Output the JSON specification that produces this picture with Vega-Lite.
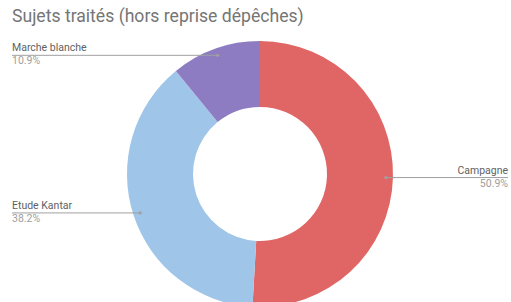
{
  "$schema": "https://vega.github.io/schema/vega-lite/v6.json",
  "width": 511,
  "height": 288,
  "padding": {"left": 4.5, "top": 8, "right": 0, "bottom": 0},
  "background": "white",
  "title": {
    "text": "Sujets traités (hors reprise dépêches)",
    "anchor": "start",
    "dx": 7.5,
    "fontSize": 17.6,
    "font": "Roboto",
    "fontWeight": "normal",
    "color": "#757575",
    "offset": 4
  },
  "config": {"view": {"stroke": null}},
  "data": {
    "values": [
      {"sujet": "Campagne", "part": 50.9},
      {"sujet": "Etude Kantar", "part": 38.2},
      {"sujet": "Marche blanche", "part": 10.9}
    ]
  },
  "layer": [
    {
      "mark": {"type": "arc", "outerRadius": 133, "innerRadius": 67},
      "encoding": {
        "theta": {"field": "part", "type": "quantitative", "stack": true},
        "color": {
          "field": "sujet",
          "type": "nominal",
          "scale": {
            "domain": ["Campagne", "Etude Kantar", "Marche blanche"],
            "range": ["#e06666", "#9fc5e8", "#8e7cc3"]
          },
          "legend": null
        },
        "order": {"field": "sujet", "sort": "ascending"}
      }
    },
    {
      "transform": [
        {"joinaggregate": [{"op": "sum", "field": "part", "as": "total"}]},
        {"window": [{"op": "sum", "field": "part", "as": "cum"}], "sort": [{"field": "sujet", "order": "ascending"}], "frame": [null, 0]},
        {"calculate": "2*PI*(datum.cum - datum.part/2)/datum.total", "as": "mid"},
        {"calculate": "126*sin(datum.mid)", "as": "px"},
        {"calculate": "126*cos(datum.mid)", "as": "py"},
        {"calculate": "datum.px > 0 ? 248 : -248", "as": "ex"},
        {"calculate": "format(datum.part, '.1f') + '%'", "as": "pct"}
      ],
      "encoding": {
        "y": {"field": "py", "type": "quantitative", "scale": {"domain": [-144, 144], "nice": false, "zero": false}, "axis": null}
      },
      "layer": [
        {
          "mark": {"type": "rule", "color": "#a0a0a0", "strokeWidth": 1},
          "encoding": {
            "x": {"field": "px", "type": "quantitative", "scale": {"domain": [-255.5, 255.5], "nice": false, "zero": false}, "axis": null},
            "x2": {"field": "ex"}
          }
        },
        {
          "mark": {"type": "circle", "color": "#a0a0a0", "size": 10, "opacity": 1},
          "encoding": {
            "x": {"field": "px", "type": "quantitative", "scale": {"domain": [-255.5, 255.5], "nice": false, "zero": false}, "axis": null}
          }
        },
        {
          "transform": [{"filter": "datum.px < 0"}],
          "mark": {"type": "text", "align": "left", "baseline": "alphabetic", "dy": -4, "fontSize": 10.5, "font": "Roboto", "color": "#616161"},
          "encoding": {
            "x": {"field": "ex", "type": "quantitative", "scale": {"domain": [-255.5, 255.5], "nice": false, "zero": false}, "axis": null},
            "text": {"field": "sujet"}
          }
        },
        {
          "transform": [{"filter": "datum.px < 0"}],
          "mark": {"type": "text", "align": "left", "baseline": "alphabetic", "dy": 9, "fontSize": 10.5, "font": "Roboto", "color": "#9e9e9e"},
          "encoding": {
            "x": {"field": "ex", "type": "quantitative", "scale": {"domain": [-255.5, 255.5], "nice": false, "zero": false}, "axis": null},
            "text": {"field": "pct"}
          }
        },
        {
          "transform": [{"filter": "datum.px > 0"}],
          "mark": {"type": "text", "align": "right", "baseline": "alphabetic", "dy": -4, "fontSize": 10.5, "font": "Roboto", "color": "#616161"},
          "encoding": {
            "x": {"field": "ex", "type": "quantitative", "scale": {"domain": [-255.5, 255.5], "nice": false, "zero": false}, "axis": null},
            "text": {"field": "sujet"}
          }
        },
        {
          "transform": [{"filter": "datum.px > 0"}],
          "mark": {"type": "text", "align": "right", "baseline": "alphabetic", "dy": 9, "fontSize": 10.5, "font": "Roboto", "color": "#9e9e9e"},
          "encoding": {
            "x": {"field": "ex", "type": "quantitative", "scale": {"domain": [-255.5, 255.5], "nice": false, "zero": false}, "axis": null},
            "text": {"field": "pct"}
          }
        }
      ]
    }
  ]
}
